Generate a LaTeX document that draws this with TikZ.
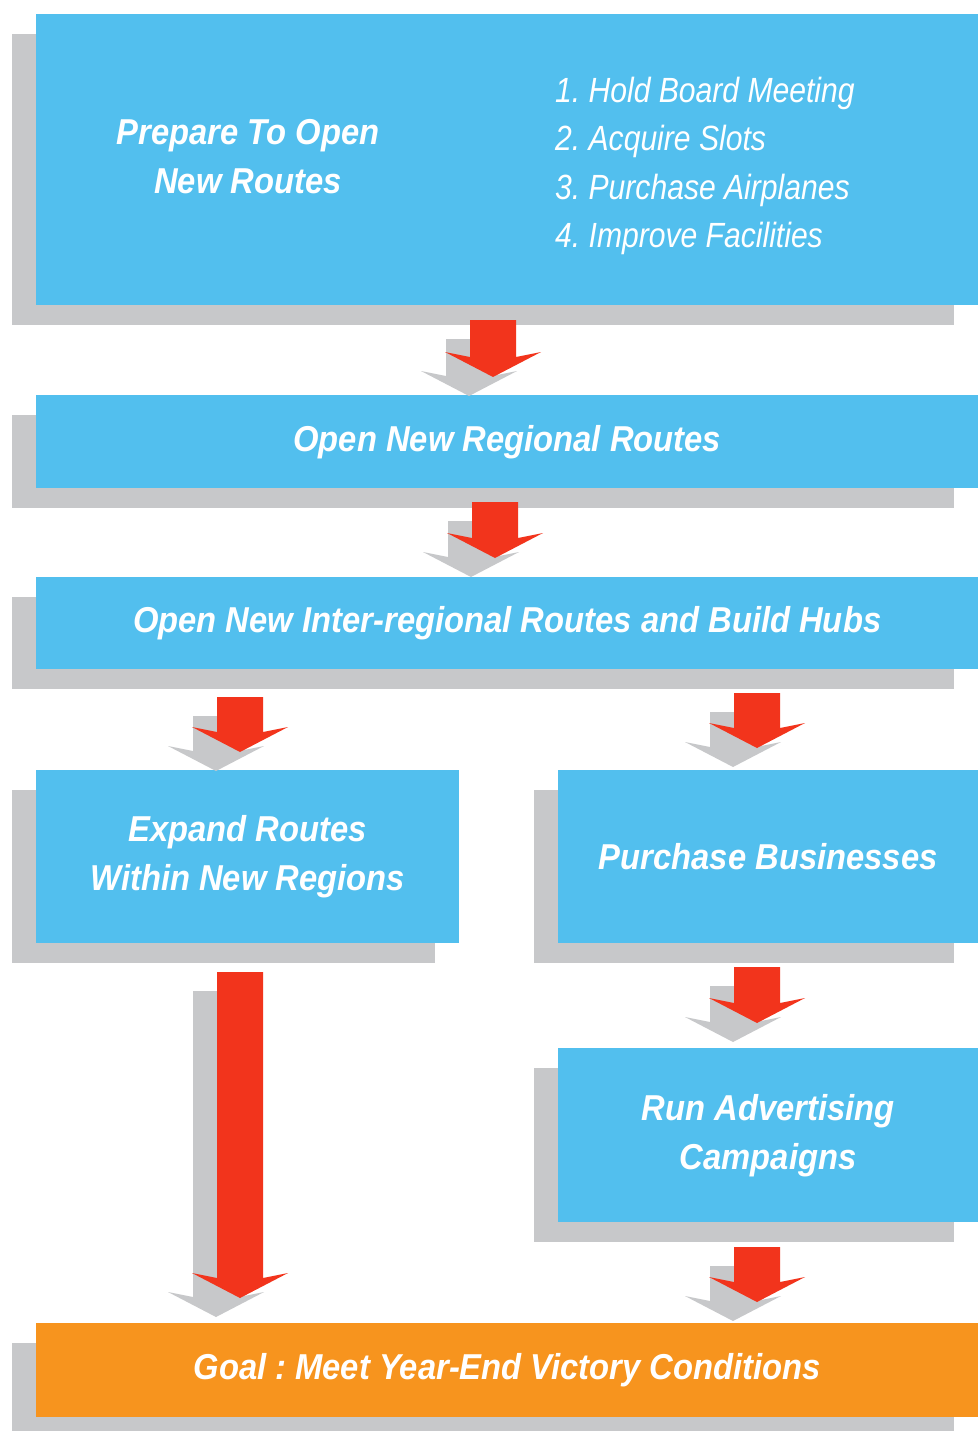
\documentclass[tikz,border=0pt]{standalone}
\usepackage{fontspec}
\usetikzlibrary{calc,shadows}
\newfontfamily\hdfont{Liberation Sans}[FakeStretch=0.91]
\newfontfamily\lsfont{Liberation Sans}[FakeStretch=0.86]
\definecolor{boxblue}{HTML}{52BFEE}
\definecolor{sgray}{HTML}{C7C8CA}
\definecolor{arrred}{HTML}{F2341C}
\definecolor{goalorange}{HTML}{F7941E}
\frenchspacing
\tikzset{
  box/.style={fill=boxblue, draw=none, inner sep=0pt, anchor=north west,
    general shadow={fill=sgray, shadow xshift=-24pt, shadow yshift=-20pt},
    text=white, align=center,
    font={\hdfont\bfseries\itshape\fontsize{36}{49}\selectfont}},
  hdtext/.style={text=white, align=center, inner sep=0pt,
    font={\hdfont\bfseries\itshape\fontsize{36}{49}\selectfont}},
  listtext/.style={text=white, align=left, inner sep=0pt, anchor=west,
    font={\lsfont\itshape\fontsize{35}{48.3}\selectfont}},
  blockarrow/.style={to path={
    let \p1=(\tikztostart), \p2=(\tikztotarget) in
    (\x1-23pt,\y1) -- (\x1+23pt,\y1) -- (\x1+23pt,\y2+20pt) -- (\x1+48pt,\y2+25pt)
    -- (\x1,\y2) -- (\x1-48pt,\y2+25pt) -- (\x1-23pt,\y2+20pt) -- cycle}},
  redarrow/.style={fill=arrred, draw=none},
  shadowarrow/.style={fill=sgray, draw=none},
}
\begin{document}
\begin{tikzpicture}[x=1pt, y=-1pt]
\fill[white] (0,0) rectangle (978,1431);
\useasboundingbox (0,0) rectangle (978,1431);
\clip (0,0) rectangle (978,1431);

% boxes
\node[box, minimum width=942pt, minimum height=291pt] (b1) at (36,14) {};
\node[hdtext] (t1) at (248,157) {Prepare To Open\\New Routes};
\node[listtext] (t2) at (555,166) {1. Hold Board Meeting\\2. Acquire Slots\\3. Purchase Airplanes\\4. Improve Facilities};

\node[box, minimum width=942pt, minimum height=93pt] (b2) at (36,395) {Open New Regional Routes};
\node[box, minimum width=942pt, minimum height=92pt] (b3) at (36,577) {Open New Inter-regional Routes and Build Hubs};
\node[box, minimum width=423pt, minimum height=173pt] (b4) at (36,770) {Expand Routes\\Within New Regions};
\node[box, minimum width=420pt, minimum height=173pt] (b5) at (558,770) {Purchase Businesses};
\node[box, minimum width=420pt, minimum height=174pt] (b6) at (558,1048) {Run Advertising\\Campaigns};
\node[box, fill=goalorange, minimum width=942pt, minimum height=94pt] (goal) at (36,1323) {Goal : Meet Year-End Victory Conditions};

% connector end points
\coordinate (a1s) at (493,320);  \coordinate (a1e) at (493,377);
\coordinate (a2s) at (495,502);  \coordinate (a2e) at (495,558);
\coordinate (a3s) at (240,697);  \coordinate (a3e) at (240,752);
\coordinate (a4s) at (757,693);  \coordinate (a4e) at (757,748);
\coordinate (a5s) at (240,972);  \coordinate (a5e) at (240,1298);
\coordinate (a6s) at (757,967);  \coordinate (a6e) at (757,1023);
\coordinate (a7s) at (757,1247); \coordinate (a7e) at (757,1302);

% arrow shadows
\foreach \a in {a1,a2,a3,a4,a5,a6,a7}{
  \fill[shadowarrow] ([xshift=-24pt,yshift=-19pt]\a s) to[blockarrow] ([xshift=-24pt,yshift=-19pt]\a e);
}
% arrows
\foreach \a in {a1,a2,a3,a4,a5,a6,a7}{
  \fill[redarrow] (\a s) to[blockarrow] (\a e);
}
\end{tikzpicture}
\end{document}
